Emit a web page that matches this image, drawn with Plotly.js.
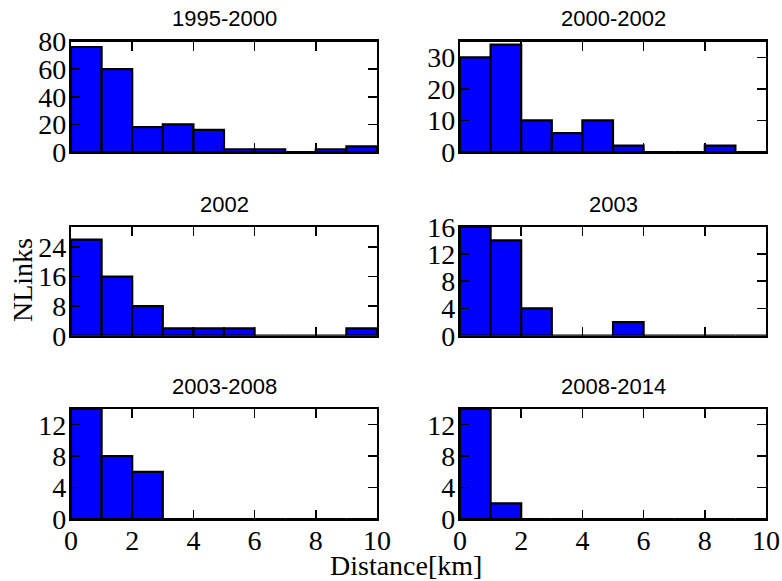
<!DOCTYPE html>
<html>
<head>
<meta charset="utf-8">
<script src="https://cdn.plot.ly/plotly-3.0.1.min.js"></script>
<style>html,body{margin:0;padding:0;background:#fff;}#chart{width:782px;height:581px;}</style>
</head>
<body>
<div id="chart"></div>
<script>
// Bin edges (km)
const binEdges = [0, 1, 2, 3, 4, 5, 6, 7, 8, 9, 10];
// Panel titles
const panelTitles = ["1995-2000", "2000-2002", "2002", "2003", "2003-2008", "2008-2014"];
// Counts per bin for each period
const counts1995_2000 = [76, 60, 18, 20, 16, 2, 2, 0, 2, 4];
const counts2000_2002 = [30, 34, 10, 6, 10, 2, 0, 0, 2, 0];
const counts2002      = [26, 16, 8, 2, 2, 2, 0, 0, 0, 2];
const counts2003      = [16, 14, 4, 0, 0, 2, 0, 0, 0, 0];
const counts2003_2008 = [14, 8, 6, 0, 0, 0, 0, 0, 0, 0];
const counts2008_2014 = [14, 2, 0, 0, 0, 0, 0, 0, 0, 0];
// Y axis limits and ticks
const yMax = [80, 35, 29.5, 16, 14, 14];
const yTicks = [[0,20,40,60,80],[0,10,20,30],[0,8,16,24],[0,4,8,12,16],[0,4,8,12],[0,4,8,12]];
const xTicks = [0, 2, 4, 6, 8, 10];

const allCounts = [counts1995_2000, counts2000_2002, counts2002, counts2003, counts2003_2008, counts2008_2014];

const binCenters = binEdges.slice(0, -1).map((e, i) => (e + binEdges[i + 1]) / 2);
const binWidths = binEdges.slice(0, -1).map((e, i) => binEdges[i + 1] - e);

const W = 782, H = 581;
const mL = 71, mR = 16, mT = 41, mB = 62;
const pw = W - mL - mR, ph = H - mT - mB;
const colX = [[71, 377], [460, 766]];
const rowY = [[41.5, 152], [226.7, 335.7], [409, 519]];
const xd = c => [(colX[c][0] - mL) / pw, (colX[c][1] - mL) / pw];
const yd = r => [(H - mB - rowY[r][1]) / ph, (H - mB - rowY[r][0]) / ph];

const serif = "'Liberation Serif', 'Times New Roman', serif";
const sans = "'Liberation Sans', Arial, Helvetica, sans-serif";

const data = [];
const layout = {
  width: W, height: H,
  margin: {l: mL, r: mR, t: mT, b: mB, pad: 0},
  paper_bgcolor: "#fff", plot_bgcolor: "#fff",
  showlegend: false, bargap: 0,
  annotations: []
};

for (let i = 0; i < 6; i++) {
  const r = Math.floor(i / 2), c = i % 2;
  const sfx = i === 0 ? "" : String(i + 1);
  data.push({
    type: "bar",
    x: binCenters, y: allCounts[i], width: binWidths,
    xaxis: "x" + sfx, yaxis: "y" + sfx,
    marker: {color: "#0000ff", line: {color: "#000", width: 2.2}},
    hoverinfo: "skip"
  });
  layout["xaxis" + sfx] = {
    domain: xd(c), anchor: "y" + sfx, range: [0, 10],
    tickmode: "array", tickvals: xTicks, ticktext: xTicks.map(String),
    showticklabels: r === 2, ticks: "inside", ticklen: 9, tickwidth: 1.5, tickcolor: "#000",
    ticklabelstandoff: -5,
    showline: true, linecolor: "#000", linewidth: 2.2, mirror: "ticks",
    showgrid: false, zeroline: false, fixedrange: true,
    tickfont: {family: serif, size: 28, color: "#000"}, automargin: false
  };
  layout["yaxis" + sfx] = {
    domain: yd(r), anchor: "x" + sfx, range: [0, yMax[i]],
    tickmode: "array", tickvals: yTicks[i], ticktext: yTicks[i].map(String),
    ticks: "inside", ticklen: 9, tickwidth: 1.5, tickcolor: "#000",
    ticklabelstandoff: -3,
    showline: true, linecolor: "#000", linewidth: 2.2, mirror: "ticks",
    showgrid: false, zeroline: false, fixedrange: true,
    tickfont: {family: serif, size: 28, color: "#000"}, automargin: false
  };
  layout.annotations.push({
    text: panelTitles[i], showarrow: false,
    xref: "paper", yref: "paper",
    x: (xd(c)[0] + xd(c)[1]) / 2, y: yd(r)[1] + 8 / ph,
    xanchor: "center", yanchor: "bottom",
    font: {family: sans, size: 22, color: "#000"}
  });
}
layout.annotations.push({
  text: "NLinks", showarrow: false, textangle: -90,
  xref: "paper", yref: "paper",
  x: (22 - mL) / pw, y: (H - mB - 280) / ph,
  xanchor: "center", yanchor: "middle",
  font: {family: serif, size: 28, color: "#000"}
});
layout.annotations.push({
  text: "Distance[km]", showarrow: false,
  xref: "paper", yref: "paper",
  x: (406 - mL) / pw, y: (H - mB - 565) / ph,
  xanchor: "center", yanchor: "middle",
  font: {family: serif, size: 28, color: "#000"}
});

Plotly.newPlot("chart", data, layout, {displayModeBar: false, staticPlot: true});
</script>
</body>
</html>
